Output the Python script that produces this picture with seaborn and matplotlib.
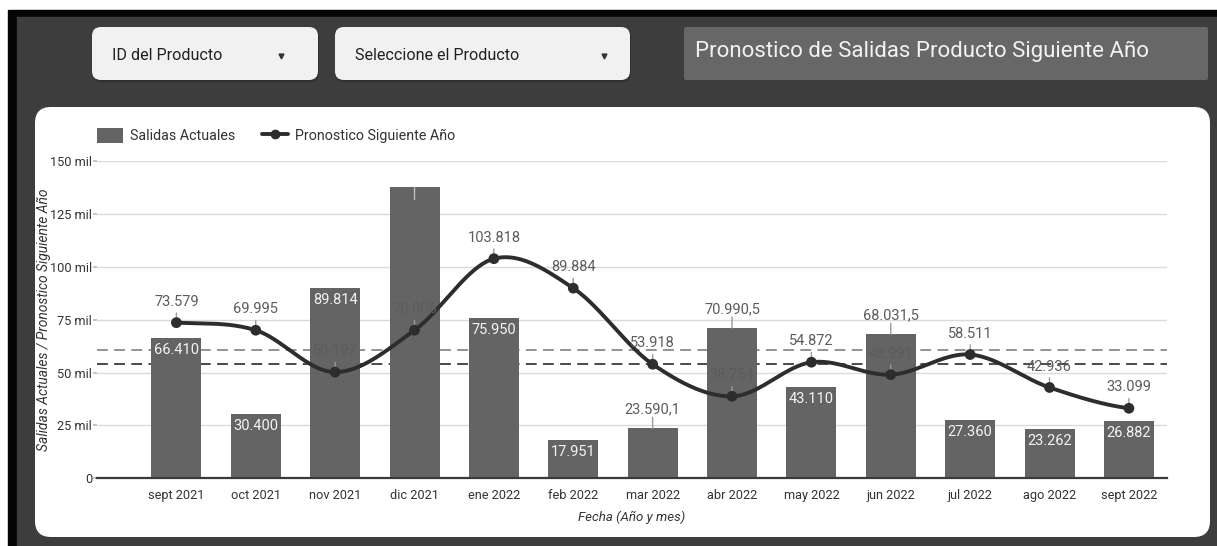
import numpy as np
import pandas as pd
import matplotlib
matplotlib.use("Agg")
import matplotlib.pyplot as plt
from matplotlib.patches import FancyBboxPatch, Rectangle, Patch
from matplotlib.lines import Line2D
import seaborn as sns

# ---- data ----
meses = ["sept 2021", "oct 2021", "nov 2021", "dic 2021", "ene 2022", "feb 2022",
         "mar 2022", "abr 2022", "may 2022", "jun 2022", "jul 2022", "ago 2022",
         "sept 2022"]
salidas_actuales = [66410, 30400, 89814, 137750, 75950, 17951, 23590.1,
                    70990.5, 43110, 68031.5, 27360, 23262, 26882]
pronostico = [73579, 69995, 50197, 70006, 103818, 89884, 53918, 38754,
              54872, 48991, 58511, 42936, 33099]
ticks_y = [0, 25000, 50000, 75000, 100000, 125000, 150000]
etiquetas_y = ["0", "25 mil", "50 mil", "75 mil", "100 mil", "125 mil", "150 mil"]

serie_barras = "Salidas Actuales"
serie_linea = "Pronostico Siguiente Año"

df = pd.DataFrame({"mes": meses, "salidas": salidas_actuales, "pronostico": pronostico})

# ---- style ----
sns.set_theme(style="white")
plt.rcParams["font.family"] = ["Roboto", "DejaVu Sans"]

W, H = 1217, 546
fig = plt.figure(figsize=(W / 100, H / 100), dpi=100)

BAR = "#646464"
LINE = "#2d2d2d"
TXT = "#333333"
LBL = "#5c5c5c"


def fmt_es(v):
    """Spanish number format: '.' for thousands, ',' for decimals."""
    if float(v).is_integer():
        return f"{int(v):,}".replace(",", ".")
    s = f"{v:,.1f}"
    return s.replace(",", "X").replace(".", ",").replace("X", ".")


def catmull_rom(xs, ys, n=40):
    xs = np.asarray(xs, float)
    ys = np.asarray(ys, float)
    px = np.concatenate([[2 * xs[0] - xs[1]], xs, [2 * xs[-1] - xs[-2]]])
    py = np.concatenate([[ys[0]], ys, [ys[-1]]])
    out_x, out_y = [], []
    t = np.linspace(0, 1, n, endpoint=False)
    for i in range(1, len(px) - 2):
        for P, out in ((px, out_x), (py, out_y)):
            p0, p1, p2, p3 = P[i - 1], P[i], P[i + 1], P[i + 2]
            out.extend(0.5 * (2 * p1 + (-p0 + p2) * t
                              + (2 * p0 - 5 * p1 + 4 * p2 - p3) * t ** 2
                              + (-p0 + 3 * p1 - 3 * p2 + p3) * t ** 3))
    out_x.append(xs[-1])
    out_y.append(ys[-1])
    return np.array(out_x), np.array(out_y)


# ---- dashboard background (pixel coordinates) ----
bg = fig.add_axes([0, 0, 1, 1], zorder=0)
bg.set_xlim(0, W)
bg.set_ylim(H, 0)
bg.axis("off")
bg.add_patch(Rectangle((0, 0), W, H, color="white"))
bg.add_patch(Rectangle((8, 10), W - 8, H - 10, color="#050505"))
bg.add_patch(Rectangle((17, 17), W - 17, H - 17, color="#3d3d3d"))
bg.add_patch(FancyBboxPatch((35, 107), 1175, 430,
                            boxstyle="round,pad=0,rounding_size=16",
                            fc="white", ec="none"))

# filter controls
for x0, w, txt, arrow_x in ((92, 226, "ID del Producto", 281),
                            (335, 295, "Seleccione el Producto", 604)):
    bg.add_patch(FancyBboxPatch((x0 + 1, 29), w, 53,
                                boxstyle="round,pad=0,rounding_size=9",
                                fc="#262626", ec="none", alpha=0.6))
    bg.add_patch(FancyBboxPatch((x0, 27), w, 53,
                                boxstyle="round,pad=0,rounding_size=9",
                                fc="#f1f1f1", ec="none"))
    bg.text(x0 + 20, 55, txt, fontsize=11.6, color="#202020", va="center", ha="left")
    bg.plot(arrow_x, 56, marker="v", ms=3.5, color="#333333")

# title box
bg.add_patch(FancyBboxPatch((684, 27), 524, 53,
                            boxstyle="round,pad=0,rounding_size=2",
                            fc="#676767", ec="none"))
bg.text(695, 51, "Pronostico de Salidas Producto Siguiente Año", fontsize=16,
        color="#f2f2f2", va="center", ha="left")

# ---- chart ----
ax_l, ax_r, ax_b, ax_t = 97, 1167, 478.3, 161
ax = fig.add_axes([ax_l / W, 1 - ax_b / H, (ax_r - ax_l) / W, (ax_b - ax_t) / H],
                  zorder=1)
ax.set_facecolor("none")

# reference lines: averages of each series
ax.axhline(np.mean(pronostico), color="#8a8a8a", lw=1.3, ls=(0, (6, 3.5)), zorder=1.5)
ax.axhline(np.mean(salidas_actuales), color="#3c3c3c", lw=1.3, ls=(0, (6, 3.5)), zorder=1.5)

sns.barplot(data=df, x="mes", y="salidas", color=BAR, saturation=1, width=0.63,
            ax=ax, zorder=2, linewidth=0)

xs = np.arange(len(meses))
cx, cy = catmull_rom(xs, pronostico)
ax.plot(cx, cy, color=LINE, lw=2.8, zorder=4, solid_capstyle="round")
sns.scatterplot(x=xs, y=pronostico, color=LINE, s=60, edgecolor="none", ax=ax,
                zorder=5, legend=False)

ax.set_xlim(-1.0, 12.48)
ax.set_ylim(0, 150000)
ax.set_yticks(ticks_y)
ax.set_yticklabels(etiquetas_y)
ax.grid(axis="y", color="#dadada", lw=1)
ax.set_axisbelow(True)
for side in ("top", "right", "left"):
    ax.spines[side].set_visible(False)
ax.spines["bottom"].set_color("#3a3a3a")
ax.spines["bottom"].set_linewidth(1.6)
ax.tick_params(axis="y", length=3, color="#bbbbbb", pad=0.5, labelsize=9.2,
               labelcolor=TXT, left=True)
ax.tick_params(axis="x", length=0, pad=8, labelsize=9.2, labelcolor=TXT)
ax.set_xlabel("Fecha (Año y mes)", fontsize=9.5, style="italic", color=TXT, labelpad=6)
ax.set_ylabel("Salidas Actuales / Pronostico Siguiente Año", fontsize=10,
              style="italic", color=TXT)
ax.yaxis.set_label_coords(-0.043, 0.5)

# ---- value labels ----
fig.canvas.draw()
renderer = fig.canvas.get_renderer()
px_per_unit = ax.transData.transform((1, 0))[0] - ax.transData.transform((0, 0))[0]
bar_px = 0.63 * px_per_unit

for i, v in enumerate(salidas_actuales):
    txt = fmt_es(v)
    if v > 0.9 * ax.get_ylim()[1]:
        # near the top: label would collide with the legend, keep only the leader
        ax.annotate("", xy=(i, v), xytext=(0, -9), textcoords="offset points",
                    arrowprops=dict(arrowstyle="-", color="#bdbdbd", lw=1,
                                    shrinkA=0, shrinkB=0), zorder=3)
        continue
    t = ax.text(i, v, txt, fontsize=10.5, color="white", ha="center", va="center")
    width = t.get_window_extent(renderer).width
    t.remove()
    if width < bar_px - 2:
        ax.annotate(txt, xy=(i, v), xytext=(0, -8.6), textcoords="offset points",
                    ha="center", va="center", fontsize=10.5, color="#f4f4f4", zorder=3)
    else:
        ax.annotate("", xy=(i, v), xytext=(0, 8), textcoords="offset points",
                    arrowprops=dict(arrowstyle="-", color="#9a9a9a", lw=1,
                                    shrinkA=0, shrinkB=0), zorder=3)
        ax.annotate(txt, xy=(i, v), xytext=(0, 13.5), textcoords="offset points",
                    ha="center", va="center", fontsize=10.5, color=LBL, zorder=3)

for i, v in enumerate(pronostico):
    ax.annotate("", xy=(i, v), xytext=(0, 9), textcoords="offset points",
                arrowprops=dict(arrowstyle="-", color="#9a9a9a", lw=1,
                                shrinkA=2, shrinkB=0), zorder=4.5)
    ax.annotate(fmt_es(v), xy=(i, v), xytext=(0, 15), textcoords="offset points",
                ha="center", va="center", fontsize=10.5, color=LBL, zorder=6)

# ---- legend ----
handles = [Patch(facecolor=BAR, edgecolor="none", label=serie_barras),
           Line2D([0], [0], color=LINE, lw=2.8, marker="o", ms=6, label=serie_linea)]
fig.legend(handles=handles, loc="upper left", ncol=2, frameon=False,
           bbox_to_anchor=(97 / W, 1 - 128 / H), fontsize=10.3, labelcolor=TXT,
           handlelength=1.8, handleheight=1.2, handletextpad=0.5,
           columnspacing=1.9, borderaxespad=0, borderpad=0)

fig.savefig("out.png", dpi=100)
